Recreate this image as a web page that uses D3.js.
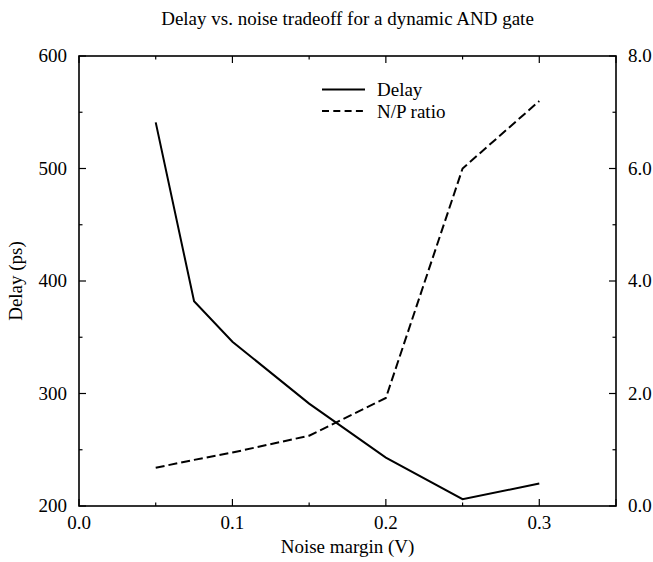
<!DOCTYPE html>
<html><head><meta charset="utf-8">
<script src="https://cdn.jsdelivr.net/npm/d3@7/dist/d3.min.js"></script>
<style>
body{margin:0;background:#fff;}
text{font-family:"Liberation Serif","Times New Roman",serif;fill:#000;}
</style></head>
<body><svg id="c" width="653" height="562"></svg>
<script>
const noiseMargin = [0.05, 0.075, 0.1, 0.15, 0.2, 0.25, 0.3];
const delayPs     = [541, 382, 346, 291, 243, 206, 220];
const npRatio     = [0.68, 0.82, 0.95, 1.25, 1.92, 6.0, 7.2];
const xTicks = [0, 0.1, 0.2, 0.3];
const yTicks = [200, 300, 400, 500, 600];
const y2Ticks = [0, 2, 4, 6, 8];
const title = "Delay vs. noise tradeoff for a dynamic AND gate";
const seriesNames = ["Delay", "N/P ratio"];

const svg = d3.select("#c");
const L = 79, R = 616, T = 56, B = 506;
const x = d3.scaleLinear().domain([0, 0.35]).range([L, R]);
const y = d3.scaleLinear().domain([200, 600]).range([B, T]);
const y2 = d3.scaleLinear().domain([0, 8]).range([B, T]);
const FS = 19;

// frame
svg.append("rect").attr("x", L).attr("y", T).attr("width", R - L).attr("height", B - T)
  .attr("fill", "none").attr("stroke", "#000").attr("stroke-width", 1.6);

const ticks = svg.append("g").attr("stroke", "#000").attr("stroke-width", 1.2);
const xMinor = d3.range(0.05, 0.35, 0.1);
xTicks.concat([0.35]).forEach(v => {
  ticks.append("line").attr("x1", x(v)).attr("x2", x(v)).attr("y1", B).attr("y2", B - 7);
  ticks.append("line").attr("x1", x(v)).attr("x2", x(v)).attr("y1", T).attr("y2", T + 7);
});
xMinor.forEach(v => {
  ticks.append("line").attr("x1", x(v)).attr("x2", x(v)).attr("y1", B).attr("y2", B - 3.5);
  ticks.append("line").attr("x1", x(v)).attr("x2", x(v)).attr("y1", T).attr("y2", T + 3.5);
});
yTicks.forEach(v => ticks.append("line").attr("x1", L).attr("x2", L + 7).attr("y1", y(v)).attr("y2", y(v)));
d3.range(250, 600, 100).forEach(v => ticks.append("line").attr("x1", L).attr("x2", L + 3.5).attr("y1", y(v)).attr("y2", y(v)));
y2Ticks.forEach(v => ticks.append("line").attr("x1", R).attr("x2", R - 7).attr("y1", y2(v)).attr("y2", y2(v)));
d3.range(1, 8, 2).forEach(v => ticks.append("line").attr("x1", R).attr("x2", R - 3.5).attr("y1", y2(v)).attr("y2", y2(v)));

// tick labels
svg.selectAll(".xl").data(xTicks).join("text").attr("x", d => x(d)).attr("y", 529)
  .attr("text-anchor", "middle").attr("font-size", FS).text(d => d.toFixed(1));
svg.selectAll(".yl").data(yTicks).join("text").attr("x", 67).attr("y", d => y(d) + 6)
  .attr("text-anchor", "end").attr("font-size", FS).text(d => d);
svg.selectAll(".y2l").data(y2Ticks).join("text").attr("x", 628).attr("y", d => y2(d) + 6)
  .attr("text-anchor", "start").attr("font-size", FS).text(d => d.toFixed(1));

// labels
svg.append("text").attr("x", (L + R) / 2).attr("y", 25).attr("text-anchor", "middle").attr("font-size", FS).text(title);
svg.append("text").attr("x", (L + R) / 2).attr("y", 553).attr("text-anchor", "middle").attr("font-size", FS).text("Noise margin (V)");
svg.append("text").attr("transform", `translate(22,${(T + B) / 2}) rotate(-90)`).attr("text-anchor", "middle").attr("font-size", FS).text("Delay (ps)");

// lines
const idx = d3.range(noiseMargin.length);
svg.append("path").attr("fill", "none").attr("stroke", "#000").attr("stroke-width", 2)
  .attr("d", d3.line().x(i => x(noiseMargin[i])).y(i => y(delayPs[i]))(idx));
svg.append("path").attr("fill", "none").attr("stroke", "#000").attr("stroke-width", 2).attr("stroke-dasharray", "9,4")
  .attr("d", d3.line().x(i => x(noiseMargin[i])).y(i => y2(npRatio[i]))(idx));

// legend
const lg = svg.append("g");
lg.append("line").attr("x1", 322).attr("x2", 365).attr("y1", 89.5).attr("y2", 89.5).attr("stroke", "#000").attr("stroke-width", 2);
lg.append("line").attr("x1", 322).attr("x2", 365).attr("y1", 111).attr("y2", 111).attr("stroke", "#000").attr("stroke-width", 2).attr("stroke-dasharray", "7,4.3");
lg.append("text").attr("x", 377).attr("y", 96).attr("font-size", FS).text(seriesNames[0]);
lg.append("text").attr("x", 377).attr("y", 118).attr("font-size", FS).text(seriesNames[1]);
</script></body></html>
